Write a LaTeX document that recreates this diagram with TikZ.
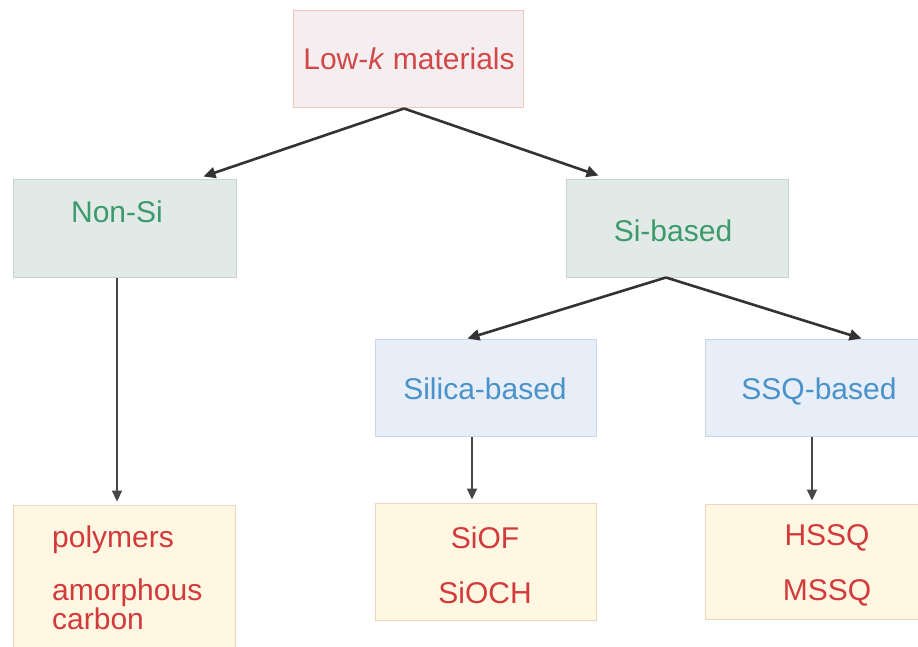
\documentclass[tikz,border=0pt]{standalone}
\usepackage{fontspec}
\setmainfont{Liberation Sans}
\usetikzlibrary{arrows.meta}
\definecolor{topfill}{HTML}{F4EEF0}
\definecolor{topline}{HTML}{F0C6B8}
\definecolor{topText}{HTML}{D24848}
\definecolor{grnfill}{HTML}{E1EAE7}
\definecolor{grnline}{HTML}{C8D3CF}
\definecolor{grnText}{HTML}{3E9A6C}
\definecolor{blufill}{HTML}{E8EEF8}
\definecolor{bluline}{HTML}{CAD5EA}
\definecolor{bluText}{HTML}{4A92CA}
\definecolor{crmfill}{HTML}{FFF7E2}
\definecolor{crmline}{HTML}{F0D4BE}
\definecolor{crmText}{HTML}{D23A3C}
\definecolor{arr}{HTML}{333333}
\tikzset{
  boxbase/.style={draw, line width=1pt, rectangle, inner sep=0pt, minimum height=97pt},
  topbox/.style={boxbase, fill=topfill, draw=topline, minimum width=230pt},
  grnbox/.style={boxbase, fill=grnfill, draw=grnline, minimum width=223pt},
  blubox/.style={boxbase, fill=blufill, draw=bluline, minimum width=221pt},
  crmbox/.style={boxbase, fill=crmfill, draw=crmline, minimum width=222pt},
  lbl/.style={inner sep=0pt, text height=21.5pt, text depth=0pt, font=\fontsize{30}{36}\selectfont},
  conn/.style={draw=arr, line width=2.6pt, -{Triangle[length=12pt,width=11pt]}},
  vconn/.style={draw=arr!90, line width=2.2pt, -{Triangle[length=11pt,width=10pt]}}
}
\begin{document}
\begin{tikzpicture}[x=1pt,y=-1pt]
\useasboundingbox (0,0) rectangle (918,647);
\fill[white] (0,0) rectangle (918,647);
\clip (0,0) rectangle (918,647);

% boxes
\node[topbox] (top) at (408,59.5) {};
\node[grnbox] (nonsi) at (124.5,228.5) {};
\node[grnbox, minimum width=222pt] (si) at (677,228.5) {};
\node[blubox] (silica) at (485.5,387.5) {};
\node[blubox] (ssq) at (815.5,387.5) {};
\node[crmbox, minimum height=160pt] (poly) at (124.5,585) {};
\node[crmbox, minimum width=221pt, minimum height=117pt] (siof) at (485.5,561.5) {};
\node[crmbox, minimum width=221pt, minimum height=115pt] (hssq) at (815.5,561.5) {};

% labels
\node[lbl, text=topText] (topT) at (409,59) {Low-\textit{k} materials};
\node[lbl, text=grnText] (nonsiT) at (117,212) {Non-Si};
\node[lbl, text=grnText] (siT) at (673,231) {Si-based};
\node[lbl, text=bluText] (silicaT) at (485,389) {Silica-based};
\node[lbl, text=bluText] (ssqT) at (819,389) {SSQ-based};
\node[lbl, text=crmText, anchor=west] (polyT1) at (52,537) {polymers};
\node[lbl, text=crmText, anchor=west] (polyT2) at (52,590) {amorphous};
\node[lbl, text=crmText, anchor=west] (polyT3) at (52,619) {carbon};
\node[lbl, text=crmText] (siofT1) at (485,538) {SiOF};
\node[lbl, text=crmText] (siofT2) at (485,593) {SiOCH};
\node[lbl, text=crmText] (hssqT1) at (827,535) {HSSQ};
\node[lbl, text=crmText] (hssqT2) at (827,590) {MSSQ};

% connectors
\draw[conn] ([xshift=-4pt]top.south) -- ([xshift=-33pt,yshift=3pt]nonsi.north east);
\draw[conn] ([xshift=-4pt]top.south) -- ([xshift=33pt,yshift=4pt]si.north west);
\draw[conn] ([xshift=-11pt]si.south) -- ([xshift=-18pt]silica.north);
\draw[conn] ([xshift=-11pt]si.south) -- ([xshift=157pt]ssq.north west);
\draw[vconn] ([xshift=-7.5pt]nonsi.south) -- ([xshift=-7.5pt,yshift=3pt]poly.north);
\draw[vconn] ([xshift=-13.5pt]silica.south) -- ([xshift=-13.5pt,yshift=3pt]siof.north);
\draw[vconn] ([xshift=-3.5pt]ssq.south) -- ([xshift=-3.5pt,yshift=3pt]hssq.north);
\end{tikzpicture}
\end{document}
